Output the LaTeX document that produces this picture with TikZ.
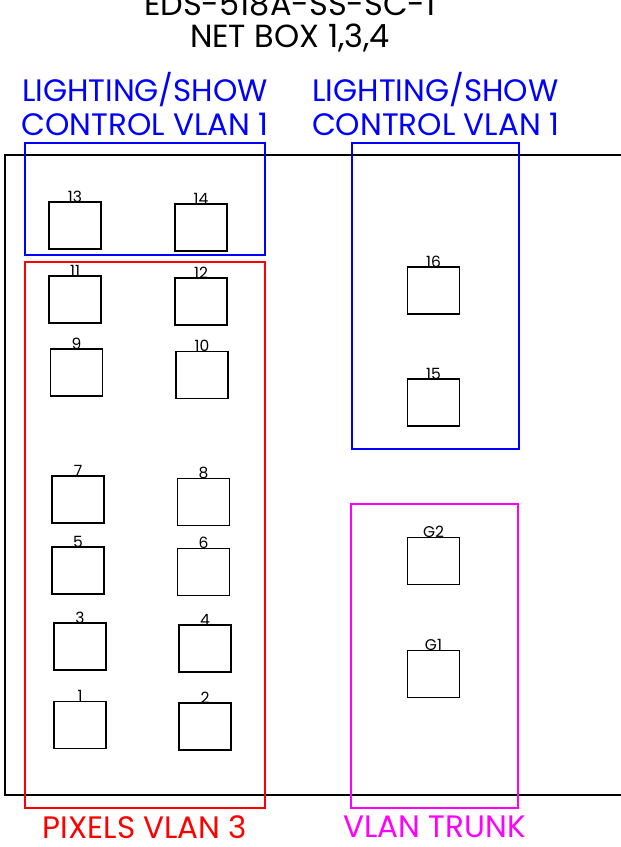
\documentclass[tikz,border=0pt]{standalone}
\usepackage{fontspec}
\setmainfont{Poppins}
\usetikzlibrary{positioning}
\definecolor{trunkpink}{RGB}{255,0,255}
\definecolor{ctrlblue}{RGB}{0,0,255}
\definecolor{pixelred}{RGB}{255,0,0}

\begin{document}
\begin{tikzpicture}[x=1pt, y=-1pt,
    port/.style={draw, line width=1.7pt, minimum width=52pt, minimum height=47pt, inner sep=0pt},
    portnum/.style={inner sep=0pt, yshift=-1.5pt, font=\fontsize{15.5}{15.5}\selectfont},
    group/.style={line width=1.5pt, inner sep=0pt},
    grouplabel/.style={align=center, inner sep=0pt, font=\fontsize{31}{34}\selectfont}]
    \useasboundingbox (0,0) rectangle (621,847);

    % Define nodes
    \node (title) at (290,22) [align=center, inner sep=0pt, font=\fontsize{32}{32}\selectfont] {EDS-518A-SS-SC-1\\NET BOX 1,3,4};

    % switch frame
    \draw[line width=1.5pt] (621,155) -- (5,155) -- (5,795) -- (621,795);

    % VLAN groups
    \node (ctrlA) at (145,199) [group, draw=ctrlblue, minimum width=240pt, minimum height=112pt] {};
    \node (pixels) at (145,535) [group, draw=pixelred, minimum width=240pt, minimum height=546pt] {};
    \node (ctrlB) at (435.5,296) [group, draw=ctrlblue, minimum width=167pt, minimum height=306pt] {};
    \node (trunk) at (434.5,656) [group, draw=trunkpink, minimum width=167pt, minimum height=304pt] {};

    \node (ctrlAtext) [grouplabel, text=ctrlblue, above=6pt of ctrlA] {LIGHTING/SHOW\\CONTROL VLAN 1};
    \node (ctrlBtext) [grouplabel, text=ctrlblue, above=6pt of ctrlB] {LIGHTING/SHOW\\CONTROL VLAN 1};
    \node (pixelstext) [grouplabel, text=pixelred, below=7pt of pixels] {PIXELS VLAN 3};
    \node (trunktext) [grouplabel, text=trunkpink, below=7pt of trunk] {VLAN TRUNK};

    % Ports
    \node (p13) at (75,225.5) [port, label={[portnum]above:13}] {};
    \node (p14) at (201,227.5) [port, label={[portnum]above:14}] {};
    \node (p11) at (75,299.5) [port, label={[portnum]above:11}] {};
    \node (p12) at (201,301.5) [port, label={[portnum]above:12}] {};
    \node (p9) at (76.5,372.5) [port, label={[portnum]above:9}] {};
    \node (p10) at (202,375) [port, label={[portnum]above:10}] {};
    \node (p7) at (78,499.5) [port, label={[portnum]above:7}] {};
    \node (p8) at (203.5,502) [port, label={[portnum]above:8}] {};
    \node (p5) at (78,570.5) [port, label={[portnum]above:5}] {};
    \node (p6) at (203.5,572) [port, label={[portnum]above:6}] {};
    \node (p3) at (80,646.5) [port, label={[portnum]above:3}] {};
    \node (p4) at (205,648.5) [port, label={[portnum]above:4}] {};
    \node (p1) at (80,725) [port, label={[portnum]above:1}] {};
    \node (p2) at (205,726.5) [port, label={[portnum]above:2}] {};

    \node (p16) at (433.5,290.5) [port, label={[portnum]above:16}] {};
    \node (p15) at (433.5,402.5) [port, label={[portnum]above:15}] {};
    \node (g2) at (433.5,561) [port, label={[portnum]above:G2}] {};
    \node (g1) at (433.5,674) [port, label={[portnum]above:G1}] {};
\end{tikzpicture}
\end{document}
